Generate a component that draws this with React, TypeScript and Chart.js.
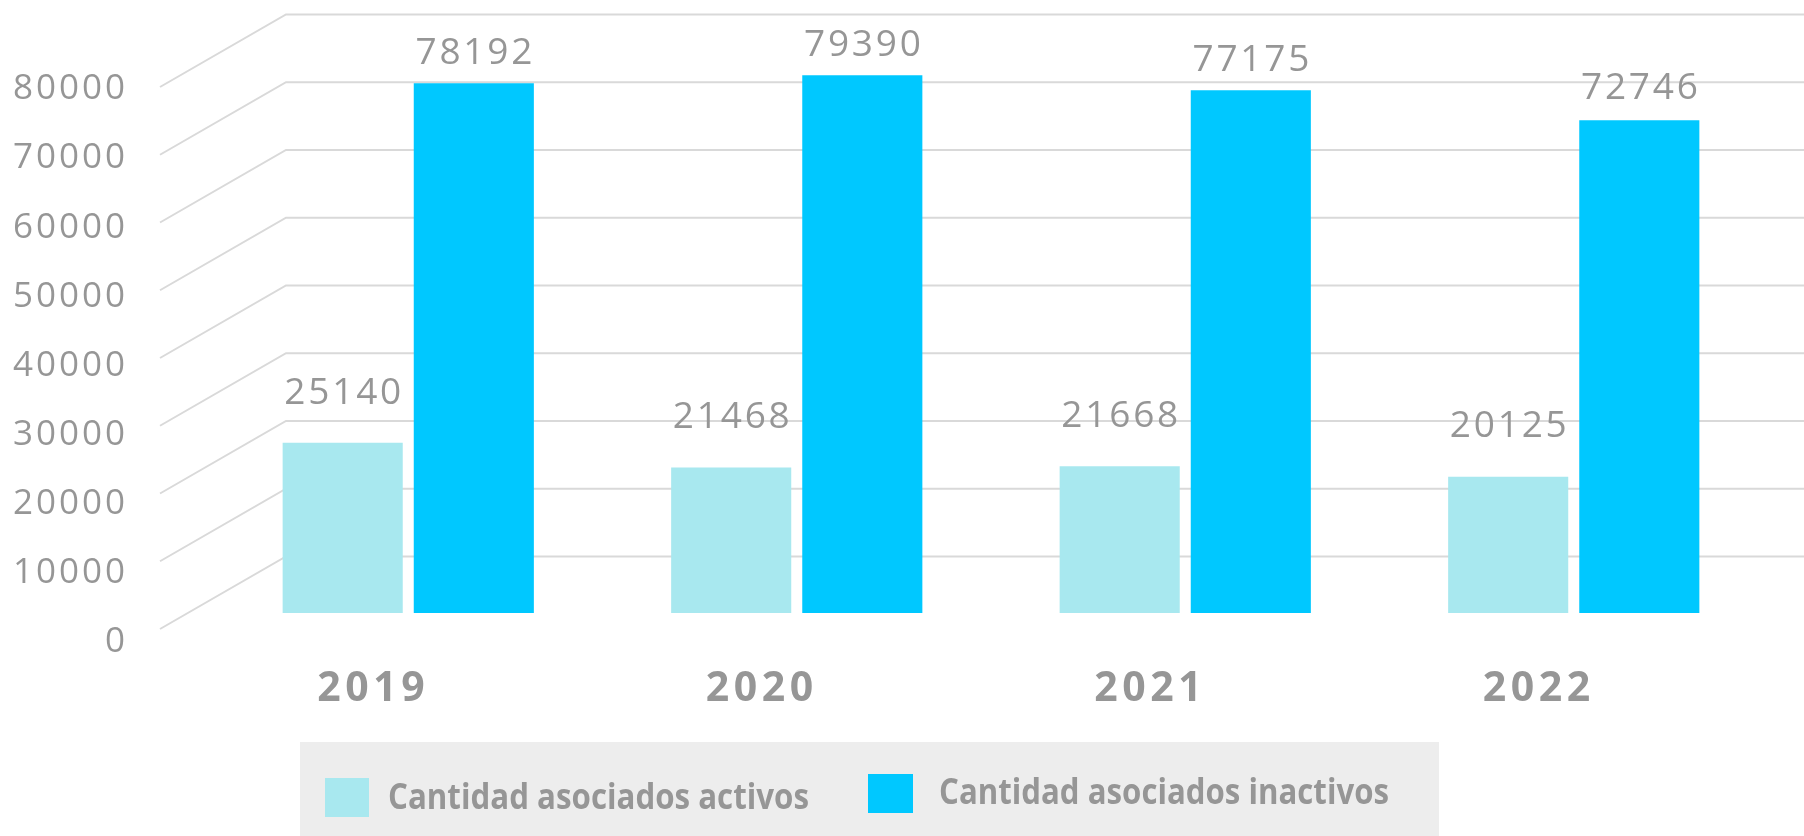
import { useEffect, useRef } from "react";
import { Chart, registerables } from "chart.js";

Chart.register(...registerables);

// ---------- data ----------
const YEARS = ["2019", "2020", "2021", "2022"];
const ACTIVOS = [25140, 21468, 21668, 20125];
const INACTIVOS = [78192, 79390, 77175, 72746];
const Y_TICKS = [0, 10000, 20000, 30000, 40000, 50000, 60000, 70000, 80000];
const SERIES_LABELS = ["Cantidad asociados activos", "Cantidad asociados inactivos"];

// ---------- style ----------
const W = 1804;
const H = 836;
const COLOR_ACTIVOS = "#a8e8ef";
const COLOR_INACTIVOS = "#00c8ff";
const GRID = "#d9d9d9";
const TEXT = "#969696";
const FONT = "'Open Sans', 'Noto Sans', sans-serif";

// pseudo-3D geometry (oblique walls)
const FRONT_X = 160;
const BACK_X = 286;
const FRONT_DY = 16;
const BACK_DY = -56.5;
// perspective factors for text placed at other depths
const TICK_DEPTH = 1.0207;
const TICK_DY = 27;
const TICK_RIGHT = 128;
const LABEL_DEPTH = 0.947;
const LABEL_RAISE = 60.5;
const XLABEL_DX = -35;
const XLABEL_Y = 686;

// legend
const LEG_BOX = { x: 300, y: 742, w: 1139, h: 94 };
const LEG_ITEMS = [
  { sx: 325, sy: 778, sw: 44, sh: 39, tx: 388, ty: 796.5, tw: 421 },
  { sx: 868, sy: 774, sw: 45, sh: 39, tx: 939, ty: 791, tw: 450 },
];

const CAP = 0.714;

const pseudo3d = {
  id: "pseudo3d",
  beforeDatasetsDraw(chart: any) {
    const { ctx } = chart;
    const y = chart.scales.y;
    ctx.save();
    ctx.strokeStyle = GRID;
    ctx.lineWidth = 2;
    for (const v of Y_TICKS) {
      const py = y.getPixelForValue(v);
      ctx.beginPath();
      ctx.moveTo(FRONT_X, py + FRONT_DY);
      ctx.lineTo(BACK_X, py + BACK_DY);
      ctx.lineTo(chart.width, py + BACK_DY);
      ctx.stroke();
    }
    // y tick labels (front edge)
    const fs = 35;
    ctx.font = `400 ${fs}px ${FONT}`;
    (ctx as any).letterSpacing = "3px";
    ctx.fillStyle = TEXT;
    ctx.textAlign = "right";
    ctx.textBaseline = "alphabetic";
    for (const v of Y_TICKS) {
      const py = y.getPixelForValue(v * TICK_DEPTH) + TICK_DY;
      ctx.fillText(String(v), TICK_RIGHT, py + (fs * CAP) / 2);
    }
    ctx.restore();
  },
  afterDatasetsDraw(chart: any) {
    const { ctx } = chart;
    const y = chart.scales.y;
    const x = chart.scales.x;
    ctx.save();
    ctx.fillStyle = TEXT;
    ctx.textBaseline = "alphabetic";

    // data labels
    const fs = 37;
    ctx.font = `400 ${fs}px ${FONT}`;
    (ctx as any).letterSpacing = "2.8px";
    ctx.textAlign = "center";
    chart.data.datasets.forEach((ds: any, di: number) => {
      const meta = chart.getDatasetMeta(di);
      meta.data.forEach((bar: any, i: number) => {
        const v = ds.data[i];
        const ly = y.getPixelForValue(v * LABEL_DEPTH) - LABEL_RAISE;
        ctx.fillText(String(v), bar.x + 1.5, ly + (fs * CAP) / 2);
      });
    });

    // category labels
    const xf = 41;
    ctx.font = `700 ${xf}px ${FONT}`;
    (ctx as any).letterSpacing = "4.5px";
    chart.data.labels.forEach((lab: string, i: number) => {
      const px = x.getPixelForValue(i) + XLABEL_DX;
      ctx.fillText(lab, px, XLABEL_Y + (xf * CAP) / 2);
    });

    // legend
    (ctx as any).letterSpacing = "0px";
    ctx.fillStyle = "#ededed";
    ctx.fillRect(LEG_BOX.x, LEG_BOX.y, LEG_BOX.w, LEG_BOX.h);
    const lf = 36;
    ctx.font = `700 ${lf}px ${FONT}`;
    ctx.textAlign = "left";
    chart.data.datasets.forEach((ds: any, di: number) => {
      const it = LEG_ITEMS[di];
      ctx.fillStyle = ds.backgroundColor;
      ctx.fillRect(it.sx, it.sy, it.sw, it.sh);
      const w = ctx.measureText(ds.label).width;
      const sx = it.tw / w;
      ctx.save();
      ctx.translate(it.tx, it.ty + (lf * CAP) / 2);
      ctx.scale(sx, 1);
      ctx.fillStyle = TEXT;
      ctx.fillText(ds.label, 0, 0);
      ctx.restore();
    });
    ctx.restore();
  },
};

export default function App() {
  const ref = useRef<HTMLCanvasElement | null>(null);
  useEffect(() => {
    if (!ref.current) return;
    const chart = new Chart(ref.current, {
      type: "bar",
      data: {
        labels: YEARS,
        datasets: [
          {
            label: SERIES_LABELS[0],
            data: ACTIVOS,
            backgroundColor: COLOR_ACTIVOS,
            borderWidth: 0,
            categoryPercentage: 0.675,
            barPercentage: 0.916,
          },
          {
            label: SERIES_LABELS[1],
            data: INACTIVOS,
            backgroundColor: COLOR_INACTIVOS,
            borderWidth: 0,
            categoryPercentage: 0.675,
            barPercentage: 0.916,
          },
        ],
      },
      options: {
        responsive: false,
        animation: false,
        layout: { padding: { left: 214, right: 36, top: 71, bottom: 223 } },
        scales: {
          x: { display: false },
          y: { display: false, min: 0, max: 80000 },
        },
        plugins: {
          legend: { display: false },
          tooltip: { enabled: false },
        },
      },
      plugins: [pseudo3d],
    });
    return () => chart.destroy();
  }, []);
  return (
    <div style={{ position: "fixed", left: 0, top: 0, width: W, height: H, background: "#fff" }}>
      <canvas ref={ref} width={W} height={H} style={{ display: "block" }} />
    </div>
  );
}
